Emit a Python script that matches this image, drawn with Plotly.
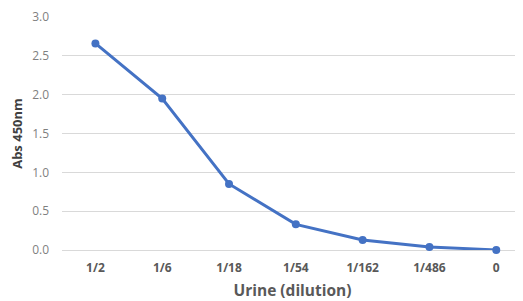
import plotly.graph_objects as go

categories = ["1/2", "1/6", "1/18", "1/54", "1/162", "1/486", "0"]
abs_values = [2.66, 1.95, 0.85, 0.33, 0.13, 0.04, 0.0]
y_ticks = [0.0, 0.5, 1.0, 1.5, 2.0, 2.5, 3.0]

fig = go.Figure()
fig.add_trace(go.Scatter(
    x=categories, y=abs_values, mode="lines+markers",
    line=dict(color="#4472C4", width=3),
    marker=dict(color="#4472C4", size=8),
    cliponaxis=False,
))
fig.update_layout(
    width=515, height=293,
    margin=dict(l=54, r=0, t=9, b=51),
    paper_bgcolor="white", plot_bgcolor="white",
    showlegend=False,
    font=dict(family="Open Sans", color="#595959"),
    xaxis=dict(
        type="category", range=[-0.5, 6.4], automargin=False,
        showgrid=False, zeroline=False, showline=False,
        tickfont=dict(size=12, color="#595959", family="Open Sans"),
        tickprefix="<b>", ticksuffix="</b>",
        ticks="", ticklabelstandoff=9,
        title=dict(text="<b>Urine (dilution)</b>", font=dict(size=15.5, color="#595959"), standoff=11),
    ),
    yaxis=dict(
        range=[0, 3], tickvals=y_ticks, tickformat=".1f", automargin=False,
        showgrid=True, gridcolor="#d9d9d9", gridwidth=1,
        zeroline=True, zerolinecolor="#d9d9d9", zerolinewidth=1,
        showline=False, ticks="", ticklabelstandoff=12,
        tickfont=dict(size=12, color="#7f7f7f"),
        title=dict(text="<b>Abs 450nm</b>", font=dict(size=13, color="#404040"), standoff=7),
    ),
)
fig.write_html("out.html")
